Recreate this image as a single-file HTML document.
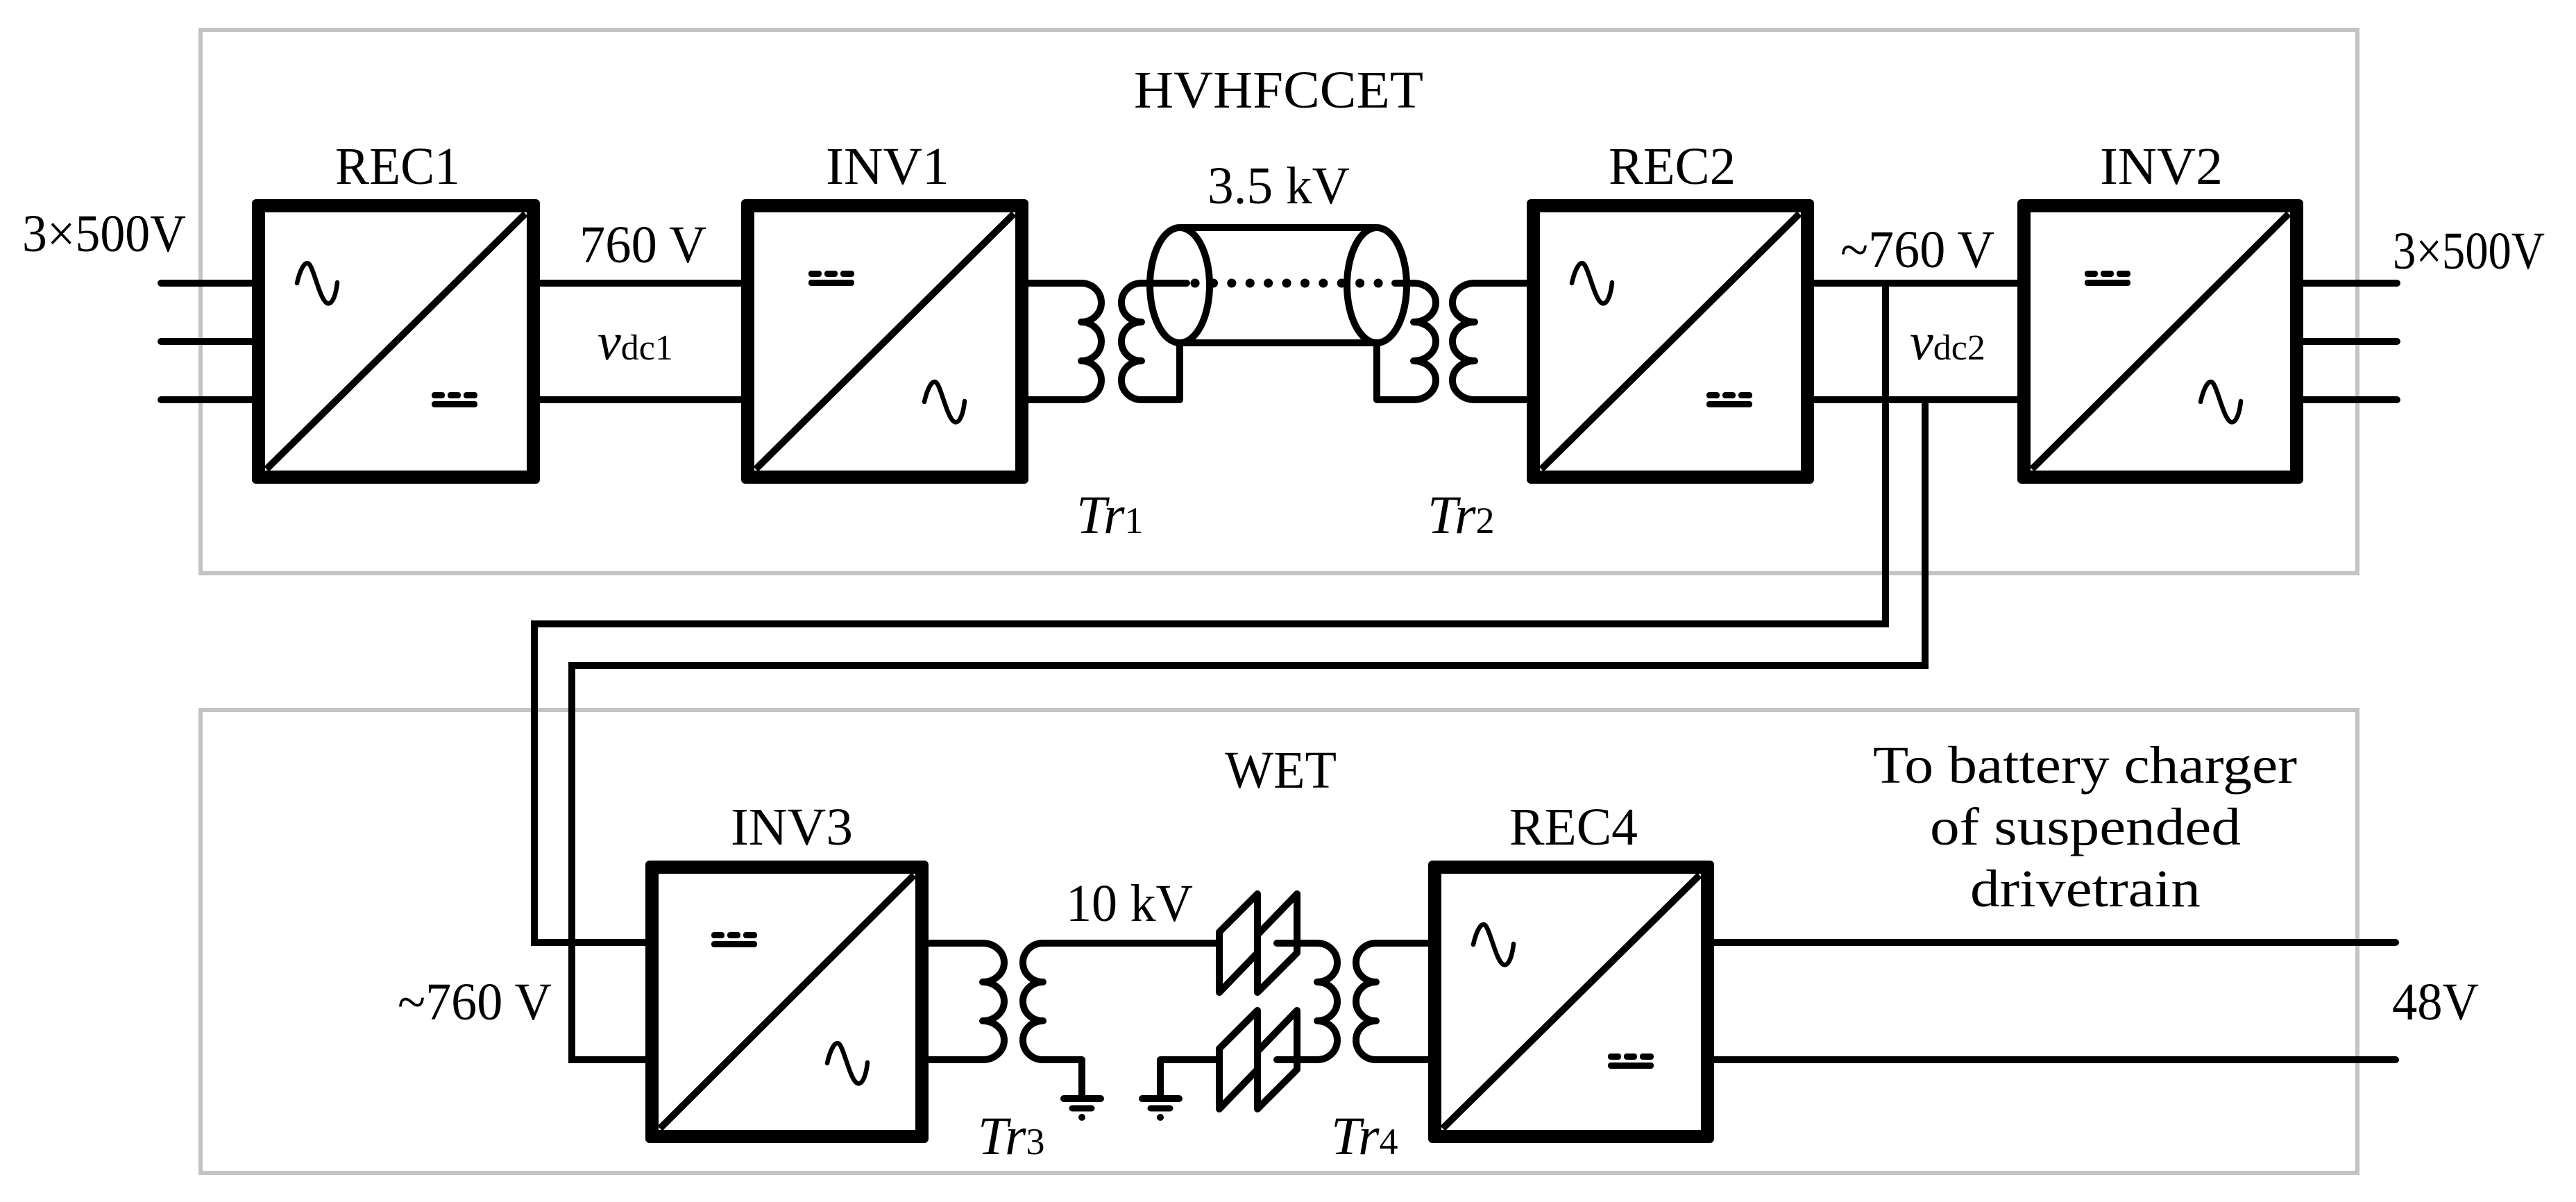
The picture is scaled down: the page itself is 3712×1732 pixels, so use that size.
<!DOCTYPE html>
<html><head><meta charset="utf-8"><style>
html,body{margin:0;padding:0;background:#fff;}
svg{display:block;}
text{font-family:"Liberation Serif",serif;fill:#000;}
</style></head><body>
<svg width="3712" height="1732" viewBox="0 0 3712 1732" xmlns="http://www.w3.org/2000/svg">
<defs>
<g id="sine"><path d="M0,30 C5,8 12,-2 17,2 C24,8 32,50 42,58 C50,64 56,48 58,29" fill="none" stroke="#000" stroke-width="6.5" stroke-linecap="round"/></g>
<g id="dc"><rect x="0" y="0" width="19" height="9" rx="4"/><rect x="23" y="0" width="19" height="9" rx="4"/><rect x="46" y="0" width="20" height="9" rx="4"/><rect x="0" y="13" width="66" height="9" rx="4"/></g>
</defs>

<!-- gray frames -->
<rect x="289" y="43" width="3108" height="783" fill="none" stroke="#c3c3c3" stroke-width="6"/>
<rect x="289" y="1023" width="3108" height="667" fill="none" stroke="#c3c3c3" stroke-width="6"/>

<g stroke="#000" stroke-width="10" fill="none" stroke-linecap="round" stroke-linejoin="round">
<!-- inputs REC1 -->
<line x1="232" y1="408" x2="370" y2="408"/>
<line x1="232" y1="492" x2="370" y2="492"/>
<line x1="232" y1="576" x2="370" y2="576"/>
<!-- REC1-INV1 -->
<line x1="775" y1="408" x2="1075" y2="408"/>
<line x1="775" y1="576" x2="1075" y2="576"/>
<!-- INV1 -> Tr1 primary -->
<path d="M1478,408 L1558,408 A29 28 0 0 1 1558,464 A29 28 0 0 1 1558,520 A29 28 0 0 1 1558,576 L1478,576"/>
<!-- Tr1 secondary -->
<path d="M1710,408 L1645,408 A29 28 0 0 0 1645,464 A29 28 0 0 0 1645,520 A29 28 0 0 0 1645,576 L1700,576 L1700,497"/>
<!-- cable -->
<ellipse cx="1700" cy="411" rx="43" ry="83"/>
<ellipse cx="1984" cy="411" rx="43" ry="83"/>
<line x1="1700" y1="328" x2="1984" y2="328"/>
<line x1="1700" y1="494" x2="1984" y2="494"/>
<!-- Tr2 primary -->
<path d="M2010,408 L2037,408 A32 28 0 0 1 2037,464 A32 28 0 0 1 2037,520 A32 28 0 0 1 2037,576 L1984,576 L1984,497"/>
<!-- Tr2 secondary -->
<path d="M2205,408 L2125,408 A32 28 0 0 0 2125,464 A32 28 0 0 0 2125,520 A32 28 0 0 0 2125,576 L2205,576"/>
<!-- REC2-INV2 -->
<line x1="2610" y1="408" x2="2912" y2="408"/>
<line x1="2610" y1="576" x2="2912" y2="576"/>
<!-- INV2 outputs -->
<line x1="3316" y1="408" x2="3454" y2="408"/>
<line x1="3316" y1="492" x2="3454" y2="492"/>
<line x1="3316" y1="576" x2="3454" y2="576"/>
<!-- HV link down -->
<path d="M2717,408 L2717,899 L770,899 L770,1358 L936,1358" stroke-linecap="butt" stroke-linejoin="miter"/>
<path d="M2774,576 L2774,959 L824,959 L824,1527 L936,1527" stroke-linecap="butt" stroke-linejoin="miter"/>
<!-- Tr3 primary -->
<path d="M1336,1359 L1416,1359 A31 28 0 0 1 1416,1415 A31 28 0 0 1 1416,1471 A31 28 0 0 1 1416,1527 L1336,1527"/>
<!-- Tr3 secondary -->
<path d="M1757,1359 L1503,1359 A29 28 0 0 0 1503,1415 A29 28 0 0 0 1503,1471 A29 28 0 0 0 1503,1527 L1559,1527 L1559,1583"/>
<!-- ground2 -->
<path d="M1757,1527 L1672,1527 L1672,1583"/>
<!-- Tr4 primary -->
<path d="M1840,1359 L1898,1359 A29 28 0 0 1 1898,1415 A29 28 0 0 1 1898,1471 A29 28 0 0 1 1898,1527 L1840,1527"/>
<!-- Tr4 secondary -->
<path d="M2062,1359 L1983,1359 A29 28 0 0 0 1983,1415 A29 28 0 0 0 1983,1471 A29 28 0 0 0 1983,1527 L2062,1527"/>
<!-- capacitors -->
<path d="M1757,1343 L1812,1288 L1812,1373 L1757,1430 Z"/>
<path d="M1812,1347 L1869,1288 L1869,1373 L1812,1430 Z"/>
<path d="M1757,1511 L1812,1456 L1812,1541 L1757,1598 Z"/>
<path d="M1812,1515 L1869,1456 L1869,1541 L1812,1598 Z"/>
<!-- REC4 outputs -->
<line x1="2468" y1="1358" x2="3452" y2="1358"/>
<line x1="2468" y1="1527" x2="3452" y2="1527"/>
</g>
<!-- dotted core -->
<line x1="1722" y1="408" x2="2012" y2="408" stroke="#000" stroke-width="13" stroke-linecap="round" stroke-dasharray="0.1 26.3"/>
<!-- grounds -->
<g stroke="#000" stroke-linecap="round" fill="none">
<line x1="1533" y1="1583" x2="1586" y2="1583" stroke-width="10"/>
<line x1="1545" y1="1597" x2="1573" y2="1597" stroke-width="9"/>
<line x1="1559" y1="1610" x2="1559" y2="1610" stroke-width="10"/>
<line x1="1646" y1="1583" x2="1699" y2="1583" stroke-width="10"/>
<line x1="1658" y1="1597" x2="1686" y2="1597" stroke-width="9"/>
<line x1="1672" y1="1610" x2="1672" y2="1610" stroke-width="10"/>
</g>

<!-- converter boxes -->
<g>
 <!-- REC1 -->
 <g transform="translate(363,287)">
  <rect width="415" height="410" rx="6" fill="#000"/><rect x="19" y="19" width="377" height="372" fill="#fff"/>
  <line x1="21" y1="389" x2="394" y2="21" stroke="#000" stroke-width="10"/>
  <use href="#sine" transform="translate(65,91)"/><use href="#dc" transform="translate(259,278)"/>
 </g>
 <!-- INV1 -->
 <g transform="translate(1068,287)">
  <rect width="414" height="410" rx="6" fill="#000"/><rect x="19" y="19" width="376" height="372" fill="#fff"/>
  <line x1="21" y1="389" x2="393" y2="21" stroke="#000" stroke-width="10"/>
  <use href="#dc" transform="translate(97,103)"/><use href="#sine" transform="translate(264,262)"/>
 </g>
 <!-- REC2 -->
 <g transform="translate(2200,287)">
  <rect width="414" height="410" rx="6" fill="#000"/><rect x="19" y="19" width="376" height="372" fill="#fff"/>
  <line x1="21" y1="389" x2="393" y2="21" stroke="#000" stroke-width="10"/>
  <use href="#sine" transform="translate(65,91)"/><use href="#dc" transform="translate(259,278)"/>
 </g>
 <!-- INV2 -->
 <g transform="translate(2907,287)">
  <rect width="412" height="410" rx="6" fill="#000"/><rect x="19" y="19" width="374" height="372" fill="#fff"/>
  <line x1="21" y1="389" x2="391" y2="21" stroke="#000" stroke-width="10"/>
  <use href="#dc" transform="translate(97,103)"/><use href="#sine" transform="translate(264,262)"/>
 </g>
 <!-- INV3 -->
 <g transform="translate(930,1240)">
  <rect width="408" height="407" rx="6" fill="#000"/><rect x="19" y="19" width="370" height="369" fill="#fff"/>
  <line x1="21" y1="386" x2="387" y2="21" stroke="#000" stroke-width="10"/>
  <use href="#dc" transform="translate(95,103)"/><use href="#sine" transform="translate(262,262)"/>
 </g>
 <!-- REC4 -->
 <g transform="translate(2058,1240)">
  <rect width="412" height="407" rx="6" fill="#000"/><rect x="19" y="19" width="374" height="369" fill="#fff"/>
  <line x1="21" y1="386" x2="391" y2="21" stroke="#000" stroke-width="10"/>
  <use href="#sine" transform="translate(65,91)"/><use href="#dc" transform="translate(259,278)"/>
 </g>
</g>

<!-- labels -->
<g font-size="76">
<text x="1634" y="155" textLength="417" lengthAdjust="spacingAndGlyphs">HVHFCCET</text>
<text x="483" y="265" textLength="180" lengthAdjust="spacingAndGlyphs">REC1</text>
<text x="1190" y="265" textLength="178" lengthAdjust="spacingAndGlyphs">INV1</text>
<text x="2318" y="265" textLength="183" lengthAdjust="spacingAndGlyphs">REC2</text>
<text x="3026" y="265" textLength="177" lengthAdjust="spacingAndGlyphs">INV2</text>
<text x="1740" y="293" textLength="205" lengthAdjust="spacingAndGlyphs">3.5 kV</text>
<text x="32" y="362" textLength="236" lengthAdjust="spacingAndGlyphs">3×500V</text>
<text x="835" y="378" textLength="183" lengthAdjust="spacingAndGlyphs">760 V</text>
<text x="2652" y="385" textLength="222" lengthAdjust="spacingAndGlyphs">~760 V</text>
<text x="3448" y="387" textLength="219" lengthAdjust="spacingAndGlyphs">3×500V</text>
<text x="1765" y="1135" textLength="161" lengthAdjust="spacingAndGlyphs">WET</text>
<text x="1053" y="1217" textLength="176" lengthAdjust="spacingAndGlyphs">INV3</text>
<text x="2175" y="1217" textLength="185" lengthAdjust="spacingAndGlyphs">REC4</text>
<text x="1536" y="1327" textLength="183" lengthAdjust="spacingAndGlyphs">10 kV</text>
<text x="573" y="1469" textLength="222" lengthAdjust="spacingAndGlyphs">~760 V</text>
<text x="3447" y="1469" textLength="125" lengthAdjust="spacingAndGlyphs">48V</text>
<text x="2699" y="1128" textLength="611" lengthAdjust="spacingAndGlyphs">To battery charger</text>
<text x="2781" y="1217" textLength="448" lengthAdjust="spacingAndGlyphs">of suspended</text>
<text x="2839" y="1306" textLength="332" lengthAdjust="spacingAndGlyphs">drivetrain</text>
</g>
<!-- italic labels -->
<g>
<text x="861" y="518" font-size="76"><tspan font-style="italic">v</tspan><tspan font-size="52">dc1</tspan></text>
<text x="2752" y="518" font-size="76"><tspan font-style="italic">v</tspan><tspan font-size="52">dc2</tspan></text>
<text x="1551" y="768" font-size="78"><tspan font-style="italic">Tr</tspan><tspan font-size="54">1</tspan></text>
<text x="2057" y="768" font-size="78"><tspan font-style="italic">Tr</tspan><tspan font-size="54">2</tspan></text>
<text x="1409" y="1663" font-size="78"><tspan font-style="italic">Tr</tspan><tspan font-size="54">3</tspan></text>
<text x="1918" y="1663" font-size="78"><tspan font-style="italic">Tr</tspan><tspan font-size="54">4</tspan></text>
</g>
</svg>
</body></html>
